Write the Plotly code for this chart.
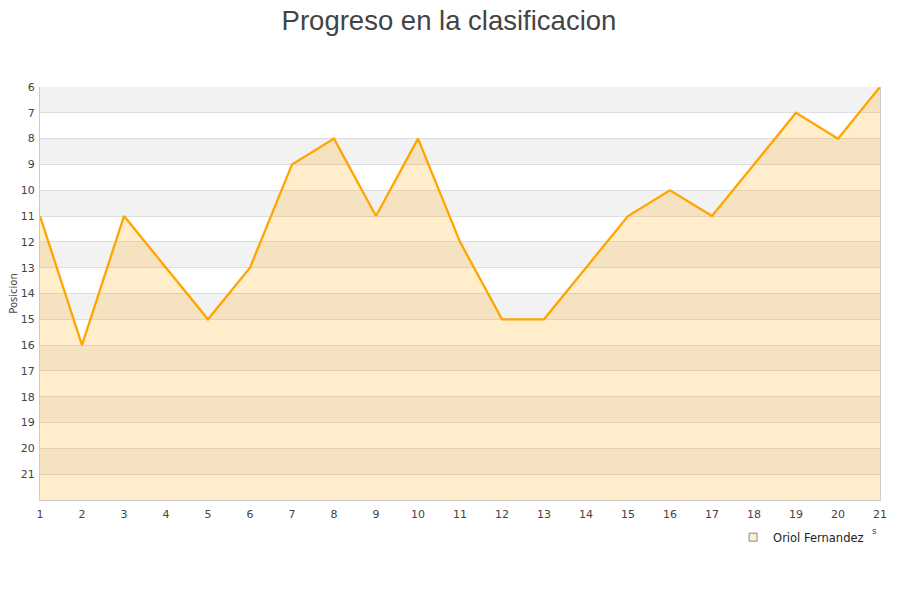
import plotly.graph_objects as go

jornadas = list(range(1, 22))
posiciones = [11, 16, 11, 13, 15, 13, 9, 8, 11, 8, 12, 15, 15, 13, 11, 10, 11, 9, 7, 8, 6]
jugador = "Oriol Fernandez"
ticks_y = list(range(6, 22))
fondo = 22

fig = go.Figure()

# bandas grises alternas
for v in range(6, 21, 2):
    fig.add_shape(type="rect", xref="paper", x0=0, x1=1, yref="y", y0=v, y1=v + 1,
                  fillcolor="#F2F2F2", line_width=0, layer="below")

# base invisible para rellenar hasta el fondo
fig.add_trace(go.Scatter(x=jornadas, y=[fondo] * len(jornadas), mode="lines",
                         line=dict(width=0), showlegend=False, hoverinfo="skip"))
fig.add_trace(go.Scatter(x=jornadas, y=posiciones, mode="lines", name=jugador,
                         fill="tonexty", fillcolor="rgba(255,165,0,0.2)",
                         line=dict(color="#FFA500", width=2.3), showlegend=False))
# entrada de leyenda
fig.add_trace(go.Scatter(x=[None], y=[None], mode="markers", name=jugador,
                         marker=dict(symbol="square", size=8, color="#FFEFD0",
                                     line=dict(color="#888888", width=1))))

# la pagina tiene 8px de margen en el body
fig.update_layout(
    width=900, height=600,
    margin=dict(l=32, r=28, t=79, b=108, autoexpand=False),
    paper_bgcolor="white", plot_bgcolor="white",
    title=dict(text="Progreso en la clasificacion", x=0.49, xanchor="center",
               y=1, yanchor="top", pad=dict(t=3),
               font=dict(family="Liberation Sans, Arial", size=27.5, color="#444444")),
    font=dict(family="DejaVu Sans", size=11, color="#444444"),
    legend=dict(x=0.987, xanchor="right", y=-0.09, yanchor="middle",
                font=dict(family="DejaVu Sans", size=11.5, color="#222222"),
                bgcolor="rgba(0,0,0,0)"),
    annotations=[dict(text="s", x=0.994, y=-0.075, xref="paper", yref="paper",
                      xanchor="center", yanchor="middle",
                      showarrow=False, font=dict(size=9, color="#444444"))],
)
fig.update_xaxes(range=[1, 21], tickmode="array", tickvals=jornadas, showgrid=False,
                 showline=True, linecolor="#CCCCCC", zeroline=False, ticks="",
                 tickfont=dict(size=11), automargin=False, ticklabelstandoff=4)
fig.update_yaxes(range=[fondo, 6], tickmode="array", tickvals=ticks_y, showgrid=True,
                 gridcolor="#DDDDDD", showline=True, linecolor="#CCCCCC", mirror=True,
                 zeroline=False, ticks="", automargin=False, ticklabelstandoff=2,
                 title=dict(text="Posicion", font=dict(size=10), standoff=11),
                 tickfont=dict(size=11))

fig.write_html("out.html")
